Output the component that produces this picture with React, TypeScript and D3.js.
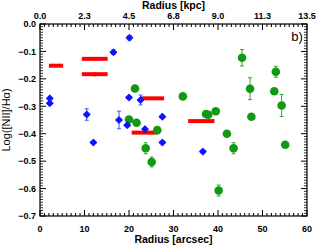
import React from "react";
import * as d3 from "d3";

// Blue diamonds: radius [arcsec], log ratio, error
const blueX = [2.2, 2.2, 10.5, 12.0, 16.5, 17.75, 19.6, 20.1, 20.0, 22.6, 23.6, 27.5, 27.5, 36.6];
const blueY = [-0.271, -0.289, -0.330, -0.432, -0.103, -0.350, -0.369, -0.050, -0.268, -0.277, -0.383, -0.338, -0.432, -0.465];
const blueErr = [0, 0, 0.021, 0, 0.008, 0.032, 0, 0.008, 0.005, 0.018, 0, 0, 0, 0];

// Green circles
const greenX = [21.35, 20.0, 21.7, 23.75, 25.1, 26.35, 32.1, 37.3, 37.8, 39.5, 40.15, 42.0, 43.5, 45.4, 47.2, 47.5, 52.65, 53.0, 54.3, 55.1];
const greenY = [-0.235, -0.348, -0.360, -0.453, -0.503, -0.387, -0.264, -0.328, -0.331, -0.318, -0.607, -0.400, -0.453, -0.123, -0.236, -0.338, -0.245, -0.174, -0.297, -0.440];
const greenErr = [0, 0, 0, 0.02, 0.018, 0, 0, 0, 0, 0, 0.02, 0, 0.02, 0.03, 0.04, 0, 0, 0.02, 0.04, 0];

// Red horizontal segments
const redX1 = [2.0, 9.4, 9.4, 22.5, 20.6, 33.3];
const redX2 = [5.2, 15.2, 15.2, 27.9, 26.4, 39.2];
const redY = [-0.152, -0.127, -0.183, -0.271, -0.396, -0.354];
const redErr = [0.005, 0, 0.008, 0, 0, 0];

const xMajor = [0, 10, 20, 30, 40, 50, 60];
const xTopLabels = ["0.0", "2.3", "4.5", "6.8", "9.0", "11.3", "13.5"];
const yMajor = [0, -0.1, -0.2, -0.3, -0.4, -0.5, -0.6, -0.7];

export default function App() {
  const W = 317, H = 246;
  const L = 40, R = 307, T = 24, B = 216;
  const x = d3.scaleLinear().domain([0, 60]).range([L, R]);
  const y = d3.scaleLinear().domain([-0.7, 0]).range([B, T]);
  const xMinor = d3.range(0, 61, 1).filter((v) => v % 10 !== 0);
  const yMinor = d3.range(-70, 1, 1).map((v) => v / 100).filter((v) => Math.round(v * 100) % 10 !== 0);
  const diamond = d3.symbol().type(d3.symbolSquare).size(20)() as string;
  const font = "'Liberation Sans', Arial, sans-serif";
  const fmtY = (v: number) => (v === 0 ? "0.0" : "\u2212" + Math.abs(v).toFixed(1));
  const axisColor = "#000";

  return (
    <svg width={W} height={H} style={{ position: "absolute", left: 0, top: 0, background: "#fff" }} fontFamily={font}>
      <rect x={0} y={0} width={W} height={H} fill="#fff" />
      <rect x={L} y={T} width={R - L} height={B - T} fill="none" stroke={axisColor} strokeWidth={1.2} />
      {xMajor.map((v) => (
        <g key={"xm" + v}>
          <line x1={x(v)} x2={x(v)} y1={B} y2={B - 6} stroke={axisColor} strokeWidth={1} />
          <line x1={x(v)} x2={x(v)} y1={T} y2={T + 6} stroke={axisColor} strokeWidth={1} />
        </g>
      ))}
      {xMinor.map((v) => (
        <g key={"xn" + v}>
          <line x1={x(v)} x2={x(v)} y1={B} y2={B - 3} stroke={axisColor} strokeWidth={1} />
          <line x1={x(v)} x2={x(v)} y1={T} y2={T + 3} stroke={axisColor} strokeWidth={1} />
        </g>
      ))}
      {yMajor.map((v) => (
        <g key={"ym" + v}>
          <line x1={L} x2={L + 6} y1={y(v)} y2={y(v)} stroke={axisColor} strokeWidth={1} />
          <line x1={R} x2={R - 6} y1={y(v)} y2={y(v)} stroke={axisColor} strokeWidth={1} />
        </g>
      ))}
      {yMinor.map((v) => (
        <g key={"yn" + v}>
          <line x1={L} x2={L + 3} y1={y(v)} y2={y(v)} stroke={axisColor} strokeWidth={0.8} />
          <line x1={R} x2={R - 3} y1={y(v)} y2={y(v)} stroke={axisColor} strokeWidth={0.8} />
        </g>
      ))}
      {xMajor.map((v) => (
        <text key={"xl" + v} x={x(v)} y={B + 16} fontSize={9} fontWeight="bold" textAnchor="middle">{v}</text>
      ))}
      {xMajor.map((v, i) => (
        <text key={"xt" + v} x={x(v)} y={T - 5} fontSize={9} fontWeight="bold" textAnchor="middle">{xTopLabels[i]}</text>
      ))}
      {yMajor.map((v) => (
        <text key={"yl" + v} x={L - 4} y={y(v) + 3.3} fontSize={9} fontWeight="bold" textAnchor="end">{fmtY(v)}</text>
      ))}
      <text x={(L + R) / 2} y={9} fontSize={10.5} fontWeight="bold" textAnchor="middle">Radius  [kpc]</text>
      <text x={(L + R) / 2} y={243} fontSize={10.5} fontWeight="bold" textAnchor="middle">Radius  [arcsec]</text>
      <text transform={`translate(10,${(T + B) / 2}) rotate(-90)`} fontSize={11} textAnchor="middle">Log([NII]/Hα)</text>
      <text x={297} y={41} fontSize={13} textAnchor="middle">b)</text>

      {redY.map((v, i) => (
        <g key={"r" + i}>
          <line x1={x(redX1[i])} x2={x(redX2[i])} y1={y(v)} y2={y(v)} stroke="#ff0000" strokeWidth={4} />
          {redErr[i] > 0 && (
            <line x1={x((redX1[i] + redX2[i]) / 2)} x2={x((redX1[i] + redX2[i]) / 2)} y1={y(v - redErr[i])} y2={y(v + redErr[i])} stroke="#ff0000" strokeWidth={1.2} />
          )}
        </g>
      ))}

      {greenY.map((v, i) =>
        greenErr[i] > 0 ? (
          <g key={"ge" + i} stroke="#33a833" strokeWidth={1}>
            <line x1={x(greenX[i])} x2={x(greenX[i])} y1={y(v - greenErr[i])} y2={y(v + greenErr[i])} />
            <line x1={x(greenX[i]) - 2} x2={x(greenX[i]) + 2} y1={y(v - greenErr[i])} y2={y(v - greenErr[i])} />
            <line x1={x(greenX[i]) - 2} x2={x(greenX[i]) + 2} y1={y(v + greenErr[i])} y2={y(v + greenErr[i])} />
          </g>
        ) : null
      )}
      {greenY.map((v, i) => (
        <circle key={"g" + i} cx={x(greenX[i])} cy={y(v)} r={4.3} fill="#119a11" />
      ))}

      {blueY.map((v, i) =>
        blueErr[i] > 0 ? (
          <g key={"be" + i} stroke="#3355ff" strokeWidth={1}>
            <line x1={x(blueX[i])} x2={x(blueX[i])} y1={y(v - blueErr[i])} y2={y(v + blueErr[i])} />
            <line x1={x(blueX[i]) - 2} x2={x(blueX[i]) + 2} y1={y(v - blueErr[i])} y2={y(v - blueErr[i])} />
            <line x1={x(blueX[i]) - 2} x2={x(blueX[i]) + 2} y1={y(v + blueErr[i])} y2={y(v + blueErr[i])} />
          </g>
        ) : null
      )}
      {blueY.map((v, i) => (
        <path key={"b" + i} d={diamond} transform={`translate(${x(blueX[i])},${y(v)}) rotate(45)`} fill="#0a14ff" stroke="#0a14ff" strokeWidth={1.2} strokeLinejoin="round" />
      ))}
    </svg>
  );
}
